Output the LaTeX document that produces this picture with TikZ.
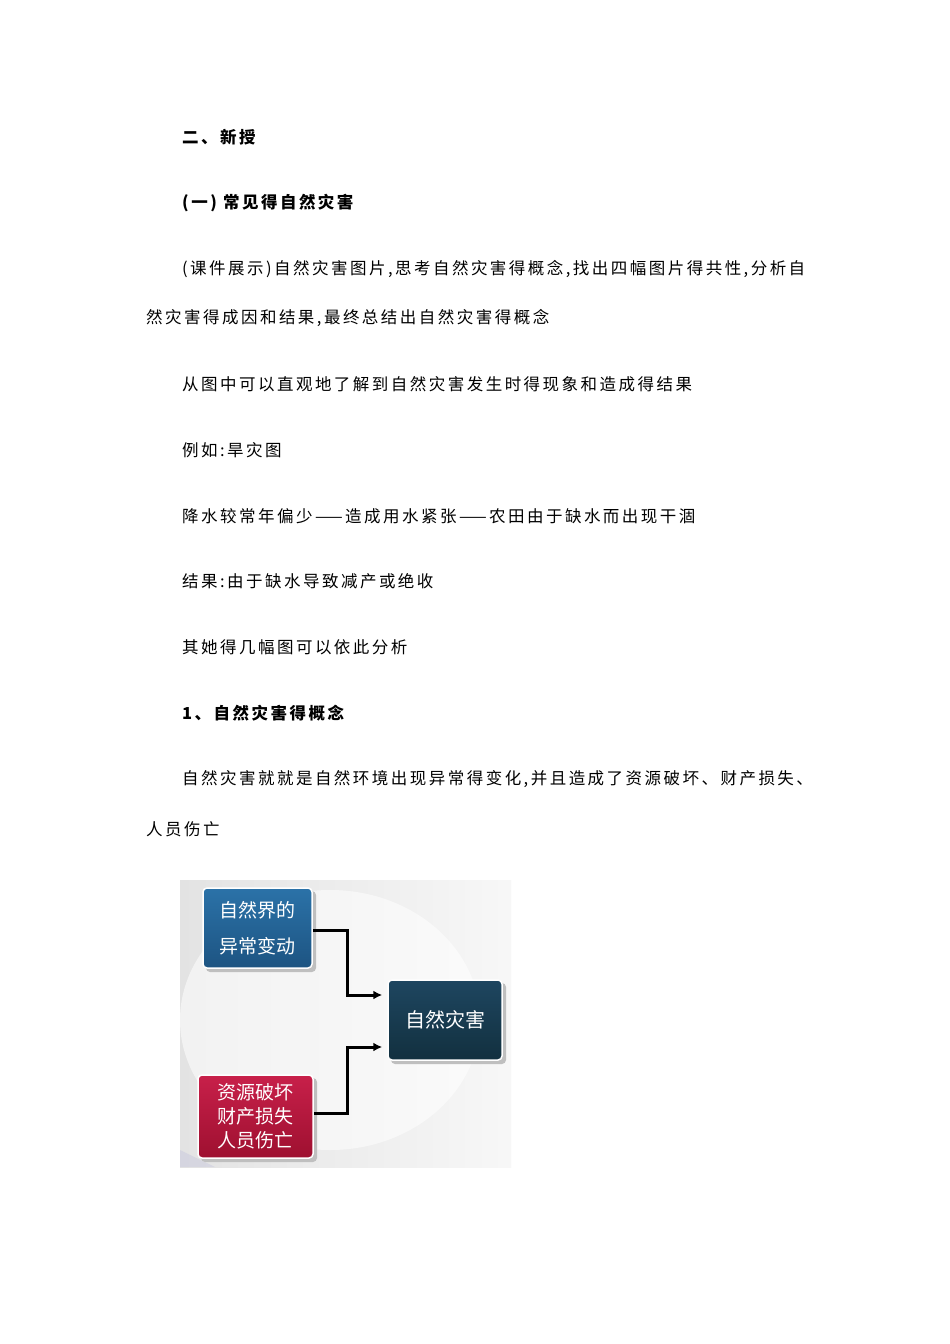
\documentclass[tikz,border=0pt]{standalone}
\usepackage{fontspec}
\newfontfamily\cjk[LetterSpace=15]{Noto Sans CJK SC}
\newfontfamily\cjkb{Noto Sans CJK SC}
\usetikzlibrary{arrows.meta}
\definecolor{boxblue}{HTML}{2B72A8}
\definecolor{boxblueb}{HTML}{1D5482}
\definecolor{boxdark}{HTML}{1E4660}
\definecolor{boxdarkb}{HTML}{12303F}
\definecolor{boxred}{HTML}{C8204A}
\definecolor{boxredb}{HTML}{9E1030}
\begin{document}
\begin{tikzpicture}[x=1pt,y=-1pt,
 txt/.style={anchor=west,inner sep=0pt,font=\cjk\fontsize{16.5}{18}\selectfont},
 btxt/.style={txt,font=\cjk\bfseries\fontsize{16.5}{18}\selectfont},
 conn/.style={line width=3pt,-{Latex[length=9pt,width=9pt]}}]
\useasboundingbox (0,0) rectangle (950,1344);
\fill[white] (0,0) rectangle (950,1344);
\node[btxt] (h1) at (182,137) {二、新授};
\node[btxt] (h2) at (182,203) {(一) 常见得自然灾害};
\node[txt] (p1) at (182,269) {(课件展示)自然灾害图片,思考自然灾害得概念,找出四幅图片得共性,分析自};
\node[txt] (p1b) at (146,318) {然灾害得成因和结果,最终总结出自然灾害得概念};
\node[txt] (p2) at (182,384) {从图中可以直观地了解到自然灾害发生时得现象和造成得结果};
\node[txt] (p3) at (182,450) {例如:旱灾图};
\node[txt] (p4) at (182,516) {降水较常年偏少——造成用水紧张——农田由于缺水而出现干涸};
\node[txt] (p5) at (182,581) {结果:由于缺水导致减产或绝收};
\node[txt] (p6) at (182,647) {其她得几幅图可以依此分析};
\node[btxt] (h3) at (182,713) {1、自然灾害得概念};
\node[txt] (p7) at (182,779) {自然灾害就就是自然环境出现异常得变化,并且造成了资源破坏、财产损失、};
\node[txt] (p7b) at (146,829) {人员伤亡};
% diagram background
\shade[left color=gray!22,right color=gray!6] (180,880) rectangle (511,1167);
\fill[white,opacity=0.55] (330,1020) ellipse (150 and 130);
\fill[blue!30!gray!40,opacity=0.35] (180,1150) -- (215,1167) -- (180,1167) -- cycle;
\fill[black!25,rounded corners=4pt] (206,891) rectangle (316,972);
\node[draw=white,line width=1.5pt,rounded corners=4pt,minimum width=109pt,minimum height=80pt,inner sep=0pt,
  top color=boxblue,bottom color=boxblueb,text=white,align=left,
  font=\cjkb\fontsize{19}{36}\selectfont] (a) at (257.5,928) {自然界的\\异常变动};
\fill[black!25,rounded corners=4pt] (391,983) rectangle (506,1064);
\node[draw=white,line width=1.5pt,rounded corners=4pt,minimum width=114pt,minimum height=80pt,inner sep=0pt,
  top color=boxdark,bottom color=boxdarkb,text=white,
  font=\cjkb\fontsize{20}{24}\selectfont] (c) at (445,1020) {自然灾害};
\fill[black!25,rounded corners=4pt] (201,1078) rectangle (317,1162);
\node[draw=white,line width=1.5pt,rounded corners=4pt,minimum width=115pt,minimum height=83pt,inner sep=0pt,
  top color=boxred,bottom color=boxredb,text=white,align=center,
  font=\cjkb\fontsize{19}{24}\selectfont] (b) at (255.5,1116.5) {资源破坏\\财产损失\\人员伤亡};
\coordinate (m1) at (347,930);
\coordinate (m2) at (347,995);
\coordinate (m3) at (347,1113);
\coordinate (m4) at (347,1047);
\draw[conn] (a.east |- m1) -- (m1) -- (m2) -- ([xshift=-5pt]c.west |- m2);
\draw[conn] (b.east |- m3) -- (m3) -- (m4) -- ([xshift=-5pt]c.west |- m4);
\end{tikzpicture}
\end{document}
